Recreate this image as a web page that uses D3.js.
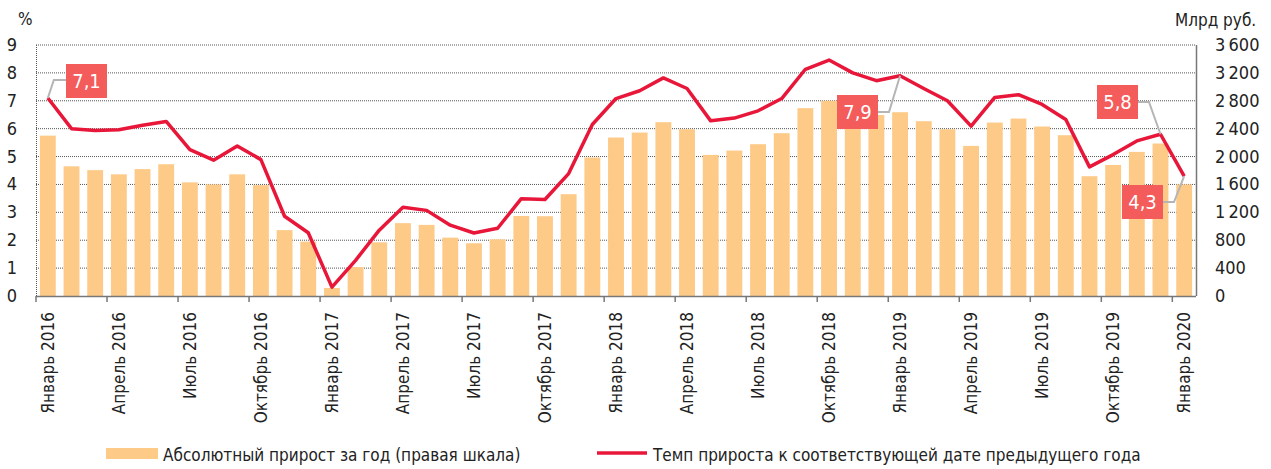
<!DOCTYPE html>
<html>
<head>
<meta charset="utf-8">
<script src="https://cdn.jsdelivr.net/npm/d3@7"></script>
<style>
  body { margin: 0; background: #fff; }
  svg text { font-family: "Liberation Sans Narrow", "DejaVu Sans Condensed", "Roboto", sans-serif; fill: #222; }
</style>
</head>
<body>
<div id="holder"></div>
<script>
const w = 1271;
const h = 469;
const margin = { left: 36, right: 75, top: 45, bottom: 173 };

// DATA
const months = ["Январь", "Февраль", "Март", "Апрель", "Май", "Июнь", "Июль", "Август", "Сентябрь", "Октябрь", "Ноябрь", "Декабрь"];
const years = [2016, 2017, 2018, 2019, 2020];
const dates = [];
years.forEach(y => months.forEach(m => { if (dates.length < 49) dates.push(m + " " + y); }));

// absolute growth, bn rub (right scale)
const absGrowth = [2300, 1860, 1805, 1745, 1820, 1890, 1630, 1600, 1745, 1590, 945, 780,
    115, 415, 770, 1045, 1020, 837, 756, 813, 1148, 1144, 1460, 1986,
    2273, 2344, 2493, 2392, 2024, 2086, 2177, 2335, 2694, 2800, 2650, 2595,
    2636, 2507, 2392, 2153, 2488, 2545, 2431, 2306, 1718, 1880, 2067, 2187, 1600];

// growth rate, % (left scale)
const growthRate = [7.1, 6.0, 5.93, 5.96, 6.12, 6.26, 5.25, 4.87, 5.38, 4.89, 2.86, 2.27,
    0.32, 1.28, 2.36, 3.18, 3.07, 2.54, 2.26, 2.43, 3.49, 3.46, 4.39, 6.15,
    7.08, 7.36, 7.82, 7.44, 6.28, 6.38, 6.64, 7.08, 8.13, 8.46, 8.0, 7.72,
    7.9, 7.44, 7.0, 6.09, 7.12, 7.22, 6.87, 6.33, 4.63, 5.07, 5.56, 5.8, 4.3];

const leftTicks = [0, 1, 2, 3, 4, 5, 6, 7, 8, 9];
const rightTicks = [0, 400, 800, 1200, 1600, 2000, 2400, 2800, 3200, 3600];

// callouts: index, label, box position
const callouts = [
    { i: 0, text: "7,1", bx: 66, by: 64, path: "h" },
    { i: 36, text: "7,9", bx: 837, by: 95 },
    { i: 47, text: "5,8", bx: 1097, by: 85 },
    { i: 48, text: "4,3", bx: 1122, by: 185 }
];

const legendItems = ["Абсолютный прирост за год (правая шкала)", "Темп прироста к соответствующей дате предыдущего года"];

const barColor = "#fdca88";
const lineColor = "#e8173a";
const boxColor = "#f45b5b";

// CREATE SVG
const svg = d3.select("#holder")
    .append("svg")
    .attr("width", w)
    .attr("height", h);

const x0 = margin.left, x1 = w - margin.right;
const y0 = h - margin.bottom, y1 = margin.top;

const x = d3.scaleBand().domain(dates).range([x0, x1]).paddingInner(0.33).paddingOuter(0.165);
const xc = d => x(d) + x.bandwidth() / 2;
const yL = d3.scaleLinear().domain([0, 9]).range([y0, y1]);
const yR = d3.scaleLinear().domain([0, 3600]).range([y0, y1]);

// gridlines
svg.append("g")
    .selectAll("line")
    .data(leftTicks.slice(1))
    .enter()
    .append("line")
    .attr("x1", x0).attr("x2", x1)
    .attr("y1", d => yL(d)).attr("y2", d => yL(d))
    .attr("stroke", "#555")
    .attr("stroke-width", 1)
    .attr("stroke-dasharray", "1,1");

// left border dotted
svg.append("line")
    .attr("x1", x0 + 0.5).attr("x2", x0 + 0.5)
    .attr("y1", y1).attr("y2", y0)
    .attr("stroke", "#555")
    .attr("stroke-dasharray", "1,1");

// bars
svg.append("g")
    .selectAll("rect")
    .data(absGrowth)
    .enter()
    .append("rect")
    .attr("x", (d, i) => x(dates[i]))
    .attr("width", x.bandwidth())
    .attr("y", d => yR(d))
    .attr("height", d => y0 - yR(d))
    .attr("fill", barColor);

// right axis line and bottom axis
svg.append("line")
    .attr("x1", x1 + 0.5).attr("x2", x1 + 0.5)
    .attr("y1", y1).attr("y2", y0)
    .attr("stroke", "#777").attr("stroke-width", 1.5);

svg.append("line")
    .attr("x1", x0).attr("x2", x1)
    .attr("y1", y0 + 0.5).attr("y2", y0 + 0.5)
    .attr("stroke", "#777").attr("stroke-width", 1.5);

// x ticks every 3 months at band boundaries
const step = x.step();
const tickIdx = d3.range(0, 50, 3);
svg.append("g")
    .selectAll("line")
    .data(tickIdx)
    .enter()
    .append("line")
    .attr("x1", i => x0 + i * step).attr("x2", i => x0 + i * step)
    .attr("y1", y0).attr("y2", y0 + 6)
    .attr("stroke", "#777").attr("stroke-width", 1.5);

// x labels
svg.append("g")
    .selectAll("text")
    .data(tickIdx.filter(i => i < 49))
    .enter()
    .append("text")
    .attr("transform", i => `translate(${xc(dates[i]) + 6},${y0 + 16}) rotate(-90)`)
    .attr("text-anchor", "end")
    .style("font-size", "17px")
    .text(i => dates[i]);

// left axis labels
svg.append("g")
    .selectAll("text")
    .data(leftTicks)
    .enter()
    .append("text")
    .attr("x", 17)
    .attr("y", d => yL(d) + 6)
    .attr("text-anchor", "end")
    .style("font-size", "18px")
    .text(d => d);

svg.append("text").attr("x", 18).attr("y", 25).style("font-size", "17px").text("%");

// right axis labels
const fmt = d => d >= 1000 ? Math.floor(d / 1000) + "\u2009" + String(d % 1000).padStart(3, "0") : String(d);
svg.append("g")
    .selectAll("text")
    .data(rightTicks)
    .enter()
    .append("text")
    .attr("x", 1215)
    .attr("y", d => yR(d) + 6)
    .style("font-size", "18px")
    .text(d => fmt(d));

svg.append("text").attr("x", 1175).attr("y", 26).style("font-size", "17px").text("Млрд руб.");

// line
const line = d3.line()
    .x((d, i) => xc(dates[i]))
    .y(d => yL(d));

svg.append("path")
    .datum(growthRate)
    .attr("d", line)
    .attr("fill", "none")
    .attr("stroke", lineColor)
    .attr("stroke-width", 3.5)
    .attr("stroke-linejoin", "round");

// callouts
const bw = 41, bh = 34;
callouts.forEach(c => {
    const px = xc(dates[c.i]);
    const py = yL(growthRate[c.i]);
    let pts;
    if (c.i === 0) {
        pts = [[px, py], [px + 6, py - 18], [c.bx, py - 18]];
    } else {
        const my = c.by + bh / 2;
        pts = [[c.bx + bw, my], [c.bx + bw + 11, my], [px, py]];
    }
    svg.append("path")
        .attr("d", d3.line()(pts))
        .attr("fill", "none")
        .attr("stroke", "#b5b5b5")
        .attr("stroke-width", 2);
    svg.append("rect")
        .attr("x", c.bx).attr("y", c.by)
        .attr("width", bw).attr("height", bh)
        .attr("fill", boxColor);
    svg.append("text")
        .attr("x", c.bx + bw / 2).attr("y", c.by + bh / 2 + 7)
        .attr("text-anchor", "middle")
        .style("font-size", "20px")
        .style("fill", "#fff")
        .text(c.text);
});

// legend
svg.append("rect").attr("x", 106).attr("y", 448).attr("width", 52).attr("height", 11).attr("fill", barColor);
svg.append("text").attr("x", 163).attr("y", 461).style("font-size", "17px").text(legendItems[0]);
svg.append("line").attr("x1", 597).attr("x2", 647).attr("y1", 453).attr("y2", 453)
    .attr("stroke", lineColor).attr("stroke-width", 3.5);
svg.append("text").attr("x", 653).attr("y", 461).style("font-size", "17px").text(legendItems[1]);
</script>
</body>
</html>
